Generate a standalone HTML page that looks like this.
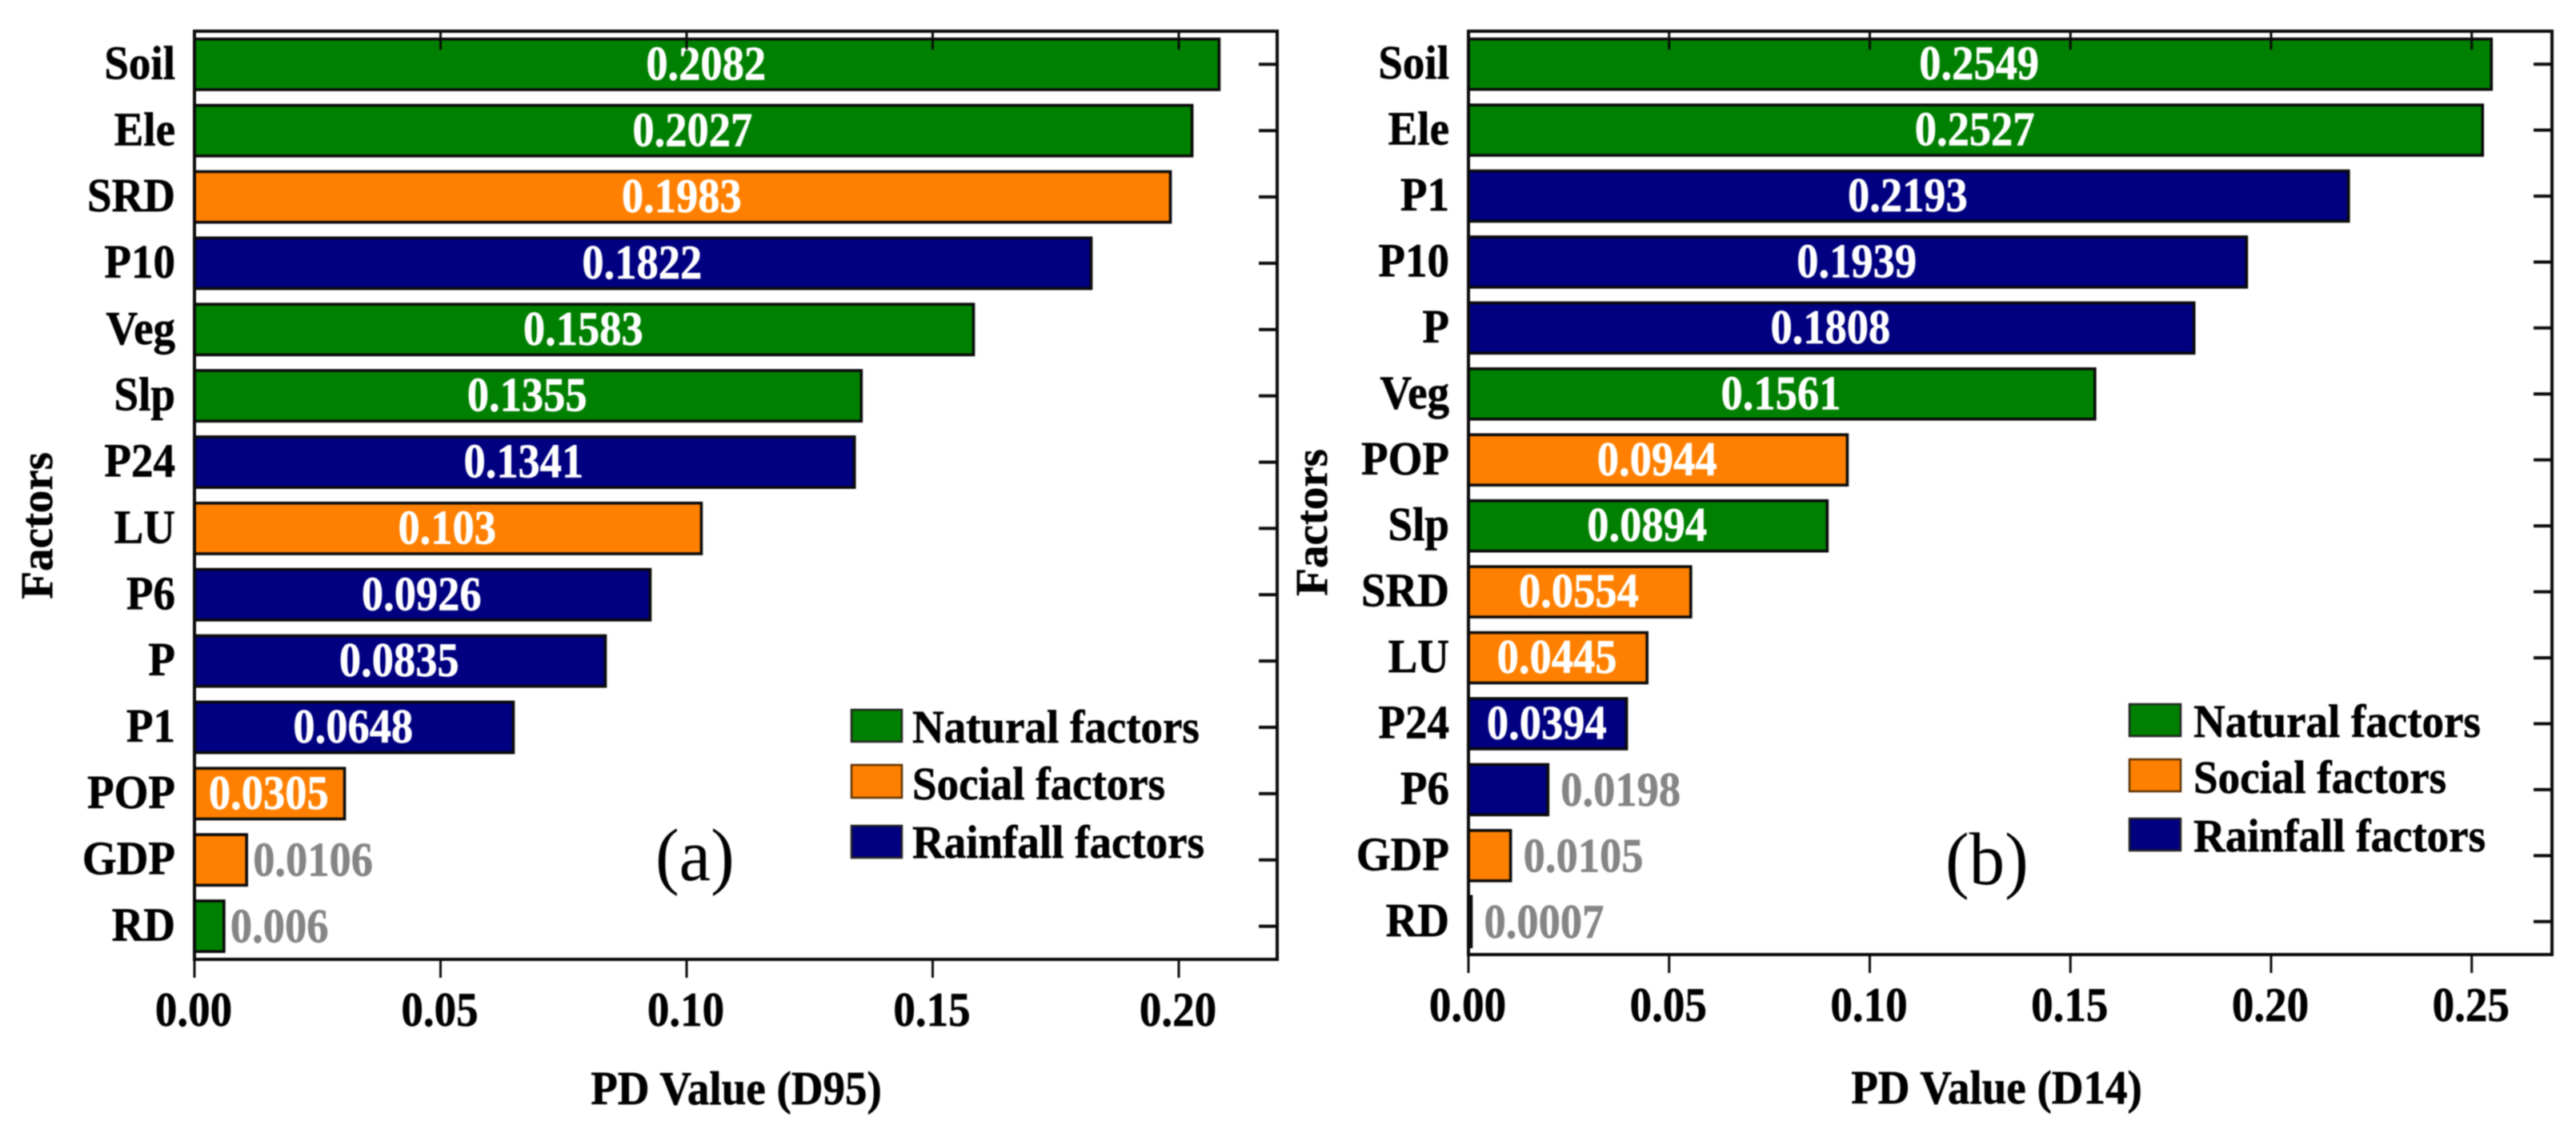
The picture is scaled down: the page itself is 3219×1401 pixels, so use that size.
<!DOCTYPE html>
<html lang="en">
<head>
<meta charset="utf-8">
<title>PD values by factor</title>
<style>
html,body{margin:0;padding:0;background:#fff;}
svg{display:block;filter:blur(0.7px);}
text{font-family:"Liberation Serif",serif;font-weight:bold;fill:#000;}
</style>
</head>
<body>
<svg id="chart" xmlns="http://www.w3.org/2000/svg" width="3219" height="1401" viewBox="0 0 3219 1401">
  <rect x="0" y="0" width="3219" height="1401" fill="#ffffff"/>
  <g id="panel-a"></g>
  <g id="panel-b"></g>

  <text transform="translate(65,657) rotate(-90)" text-anchor="middle" font-size="57" stroke="#000" stroke-width="0.6">Factors</text>
  <text transform="translate(920,1380) scale(1,1.08)" text-anchor="middle" font-size="55" stroke="#000" stroke-width="0.6">PD Value (D95)</text>
  <text transform="translate(819,1100) scale(1,1.05)" font-size="89" style="font-weight:normal">(a)</text>

  <text transform="translate(1658,653) rotate(-90)" text-anchor="middle" font-size="57" stroke="#000" stroke-width="0.6">Factors</text>
  <text transform="translate(2495,1379) scale(1,1.08)" text-anchor="middle" font-size="55" stroke="#000" stroke-width="0.6">PD Value (D14)</text>
  <text transform="translate(2431,1105) scale(1,1.05)" font-size="89" style="font-weight:normal">(b)</text>

  <g>
    <rect x="1064" y="887" width="63" height="40" fill="#008000" stroke="#222" stroke-width="2.5"/>
    <text transform="translate(1140,928) scale(1,1.05)" font-size="55" stroke="#000" stroke-width="0.6">Natural factors</text>
    <rect x="1064" y="956" width="63" height="41" fill="#ff8000" stroke="#5a3000" stroke-width="2.5"/>
    <text transform="translate(1140,999) scale(1,1.05)" font-size="55" stroke="#000" stroke-width="0.6">Social factors</text>
    <rect x="1064" y="1032" width="63" height="40" fill="#000080" stroke="#222" stroke-width="2.5"/>
    <text transform="translate(1140,1072) scale(1,1.05)" font-size="55" stroke="#000" stroke-width="0.6">Rainfall factors</text>
  </g>
  <g>
    <rect x="2661" y="880" width="64" height="40" fill="#008000" stroke="#222" stroke-width="2.5"/>
    <text transform="translate(2741,921) scale(1,1.05)" font-size="55" stroke="#000" stroke-width="0.6">Natural factors</text>
    <rect x="2661" y="949" width="64" height="40" fill="#ff8000" stroke="#5a3000" stroke-width="2.5"/>
    <text transform="translate(2741,991) scale(1,1.05)" font-size="55" stroke="#000" stroke-width="0.6">Social factors</text>
    <rect x="2661" y="1023" width="64" height="40" fill="#000080" stroke="#222" stroke-width="2.5"/>
    <text transform="translate(2741,1064) scale(1,1.05)" font-size="55" stroke="#000" stroke-width="0.6">Rainfall factors</text>
  </g>
</svg>
<script>
// Chart data: panel (a) D95
var categoriesA = ["Soil","Ele","SRD","P10","Veg","Slp","P24","LU","P6","P","P1","POP","GDP","RD"];
var valuesA = [0.2082,0.2027,0.1983,0.1822,0.1583,0.1355,0.1341,0.103,0.0926,0.0835,0.0648,0.0305,0.0106,0.006];
var groupsA = ["natural","natural","social","rainfall","natural","natural","rainfall","social","rainfall","rainfall","rainfall","social","social","natural"];
var xTickLabelsA = ["0.00","0.05","0.10","0.15","0.20"];

// Chart data: panel (b) D14
var categoriesB = ["Soil","Ele","P1","P10","P","Veg","POP","Slp","SRD","LU","P24","P6","GDP","RD"];
var valuesB = [0.2549,0.2527,0.2193,0.1939,0.1808,0.1561,0.0944,0.0894,0.0554,0.0445,0.0394,0.0198,0.0105,0.0007];
var groupsB = ["natural","natural","rainfall","rainfall","rainfall","natural","social","natural","social","social","rainfall","rainfall","social","natural"];
var xTickLabelsB = ["0.00","0.05","0.10","0.15","0.20","0.25"];

var groupColors = {natural:"#008000", social:"#ff8000", rainfall:"#000080"};
var SVG_NS = "http://www.w3.org/2000/svg";
var INK = "#0a0a0a";

function makeLine(x1, y1, x2, y2, width) {
  var el = document.createElementNS(SVG_NS, "line");
  el.setAttribute("x1", x1);
  el.setAttribute("y1", y1);
  el.setAttribute("x2", x2);
  el.setAttribute("y2", y2);
  el.setAttribute("stroke", INK);
  el.setAttribute("stroke-width", width);
  return el;
}

function makeText(content, x, y, size, anchor, fill, yScale) {
  var el = document.createElementNS(SVG_NS, "text");
  el.setAttribute("transform", "translate(" + x + "," + y + ") scale(1," + yScale + ")");
  el.setAttribute("font-size", size);
  el.setAttribute("text-anchor", anchor);
  el.setAttribute("stroke", fill);
  el.setAttribute("stroke-width", 0.6);
  el.setAttribute("style", "fill:" + fill);
  el.textContent = content;
  return el;
}

function drawPanel(root, cats, vals, groups, tickLabels, box) {
  var xScale = function (v) { return box.left + (v / box.xMax) * (box.right - box.left); };
  var band = (box.bottom - box.top) / cats.length;
  var yCenter = function (i) { return box.top + band * (i + 0.5); };
  var barHeight = band * 0.8 - 3;

  cats.forEach(function (cat, i) {
    var c = yCenter(i);
    var v = vals[i];
    var key = cat.toLowerCase();

    var bar = document.createElementNS(SVG_NS, "rect");
    bar.setAttribute("x", box.left);
    bar.setAttribute("y", c - barHeight / 2);
    bar.setAttribute("width", Math.max(0, xScale(v) - box.left));
    bar.setAttribute("height", barHeight);
    bar.setAttribute("fill", groupColors[groups[i]]);
    bar.setAttribute("stroke", INK);
    bar.setAttribute("stroke-width", 3.6);
    
    
    root.appendChild(bar);

    var inside = v >= box.insideMin;
    var valueText = inside
      ? makeText(String(v), (xScale(0) + xScale(v)) / 2 - 1, c + 19, 54.5, "middle", "#ffffff", 1.1)
      : makeText(String(v), xScale(v) + box.outsideGap, c + 20, 54.5, "start", "#858585", 1.1);
    
    
    root.appendChild(valueText);

    var catText = makeText(cat, box.left - 24, c + 18, 55, "end", "#000000", 1.08);
    
    
    root.appendChild(catText);

    var rightTick = makeLine(box.right - 23, c, box.right, c, 4);
    
    
    root.appendChild(rightTick);
  });

  tickLabels.forEach(function (label) {
    var x = xScale(parseFloat(label));

    var bottomTick = makeLine(x, box.bottom, x, box.bottom + 23, 3);
    
    
    root.appendChild(bottomTick);

    var topTick = makeLine(x, box.top, x, box.top + 23, 3);
    
    
    root.appendChild(topTick);

    var tickText = makeText(label, x - 1, box.bottom + 83, 55, "middle", "#000000", 1.1);
    
    
    root.appendChild(tickText);
  });

  var frame = document.createElementNS(SVG_NS, "rect");
  frame.setAttribute("x", box.left);
  frame.setAttribute("y", box.top);
  frame.setAttribute("width", box.right - box.left);
  frame.setAttribute("height", box.bottom - box.top);
  frame.setAttribute("fill", "none");
  frame.setAttribute("stroke", INK);
  frame.setAttribute("stroke-width", 4);
  
  
  root.appendChild(frame);
}

drawPanel(document.getElementById("panel-a"), categoriesA, valuesA, groupsA, xTickLabelsA,
  {left:243, right:1596, top:39, bottom:1199, xMax:0.22, insideMin:0.025, outsideGap:8});
drawPanel(document.getElementById("panel-b"), categoriesB, valuesB, groupsB, xTickLabelsB,
  {left:1835, right:3189, top:39, bottom:1193, xMax:0.27, insideMin:0.025, outsideGap:16});
</script>
</body>
</html>
